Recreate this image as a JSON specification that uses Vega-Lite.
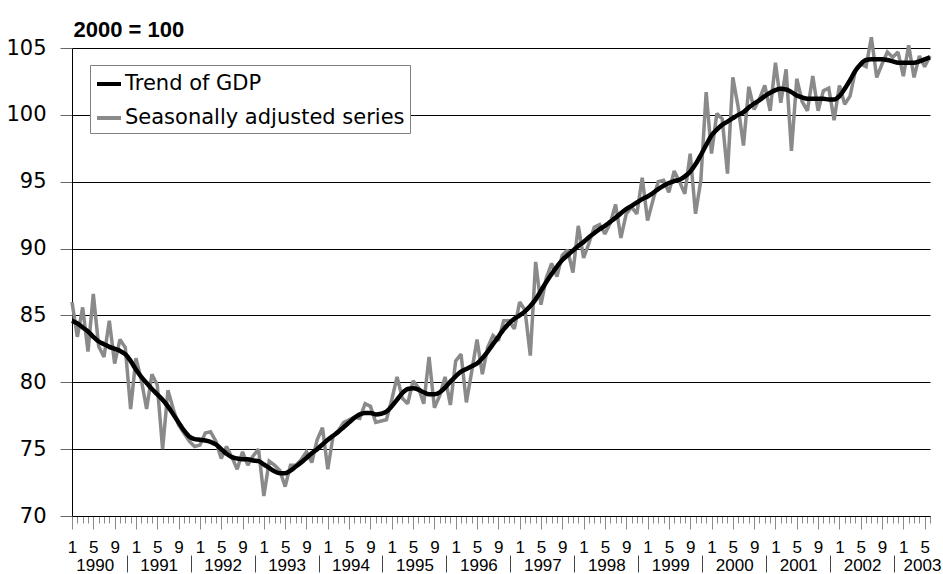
{
  "$schema": "https://vega.github.io/schema/vega-lite/v6.json",
  "width": 858,
  "height": 468,
  "autosize": {"type": "none"},
  "padding": {"left": 72, "top": 48, "right": 13, "bottom": 58},
  "background": "white",
  "config": {
    "view": {"stroke": null},
    "font": "Liberation Sans",
    "legend": {
      "orient": "none",
      "legendX": 18,
      "legendY": 17,
      "fillColor": "white",
      "strokeColor": "#808080",
      "strokeWidth": 1,
      "padding": 5,
      "symbolType": "stroke",
      "symbolStrokeWidth": 4,
      "symbolSize": 576,
      "labelFont": "DejaVu Sans",
      "labelFontSize": 21,
      "labelColor": "black",
      "labelOffset": 2,
      "rowPadding": 10,
      "labelLimit": 400
    }
  },
  "data": {
    "values": [
      {"t":0,"sa":86.0,"trend":84.6},{"t":1,"sa":83.4,"trend":84.4},{"t":2,"sa":85.6,"trend":84.1},{"t":3,"sa":82.3,"trend":83.8},
      {"t":4,"sa":86.6,"trend":83.4},{"t":5,"sa":82.7,"trend":83.05},{"t":6,"sa":81.9,"trend":82.85},{"t":7,"sa":84.6,"trend":82.65},
      {"t":8,"sa":81.4,"trend":82.5},{"t":9,"sa":83.2,"trend":82.35},{"t":10,"sa":82.6,"trend":82.1},{"t":11,"sa":78.0,"trend":81.6},
      {"t":12,"sa":81.8,"trend":80.95},{"t":13,"sa":80.2,"trend":80.4},{"t":14,"sa":78.0,"trend":79.95},{"t":15,"sa":80.6,"trend":79.5},
      {"t":16,"sa":79.8,"trend":79.1},{"t":17,"sa":75.0,"trend":78.7},{"t":18,"sa":79.4,"trend":78.2},{"t":19,"sa":78.0,"trend":77.6},
      {"t":20,"sa":76.8,"trend":77.0},{"t":21,"sa":76.2,"trend":76.4},{"t":22,"sa":75.6,"trend":75.95},{"t":23,"sa":75.2,"trend":75.75},
      {"t":24,"sa":75.3,"trend":75.7},{"t":25,"sa":76.2,"trend":75.65},{"t":26,"sa":76.3,"trend":75.55},{"t":27,"sa":75.6,"trend":75.35},
      {"t":28,"sa":74.3,"trend":75.0},{"t":29,"sa":75.2,"trend":74.65},{"t":30,"sa":74.4,"trend":74.4},{"t":31,"sa":73.5,"trend":74.3},
      {"t":32,"sa":74.8,"trend":74.25},{"t":33,"sa":73.8,"trend":74.25},{"t":34,"sa":74.5,"trend":74.15},{"t":35,"sa":75.0,"trend":74.1},
      {"t":36,"sa":71.5,"trend":73.85},{"t":37,"sa":74.1,"trend":73.6},{"t":38,"sa":73.8,"trend":73.35},{"t":39,"sa":73.4,"trend":73.2},
      {"t":40,"sa":72.2,"trend":73.2},{"t":41,"sa":73.8,"trend":73.4},{"t":42,"sa":73.8,"trend":73.7},{"t":43,"sa":74.2,"trend":74.0},
      {"t":44,"sa":74.8,"trend":74.35},{"t":45,"sa":74.0,"trend":74.7},{"t":46,"sa":75.7,"trend":75.0},{"t":47,"sa":76.6,"trend":75.35},
      {"t":48,"sa":73.5,"trend":75.7},{"t":49,"sa":76.0,"trend":76.0},{"t":50,"sa":76.4,"trend":76.3},{"t":51,"sa":77.0,"trend":76.65},
      {"t":52,"sa":77.2,"trend":77.0},{"t":53,"sa":77.4,"trend":77.35},{"t":54,"sa":77.3,"trend":77.6},{"t":55,"sa":78.4,"trend":77.7},
      {"t":56,"sa":78.2,"trend":77.7},{"t":57,"sa":77.0,"trend":77.6},{"t":58,"sa":77.1,"trend":77.65},{"t":59,"sa":77.2,"trend":77.8},
      {"t":60,"sa":78.7,"trend":78.2},{"t":61,"sa":80.4,"trend":78.7},{"t":62,"sa":78.8,"trend":79.2},{"t":63,"sa":78.4,"trend":79.5},
      {"t":64,"sa":80.1,"trend":79.55},{"t":65,"sa":79.6,"trend":79.45},{"t":66,"sa":78.4,"trend":79.25},{"t":67,"sa":81.9,"trend":79.1},
      {"t":68,"sa":78.1,"trend":79.1},{"t":69,"sa":79.0,"trend":79.25},{"t":70,"sa":80.4,"trend":79.6},{"t":71,"sa":78.3,"trend":80.05},
      {"t":72,"sa":81.6,"trend":80.45},{"t":73,"sa":82.1,"trend":80.8},{"t":74,"sa":78.5,"trend":81.0},{"t":75,"sa":80.8,"trend":81.2},
      {"t":76,"sa":83.2,"trend":81.4},{"t":77,"sa":80.6,"trend":81.8},{"t":78,"sa":82.6,"trend":82.3},{"t":79,"sa":83.5,"trend":82.85},
      {"t":80,"sa":83.1,"trend":83.4},{"t":81,"sa":84.6,"trend":83.95},{"t":82,"sa":84.6,"trend":84.4},{"t":83,"sa":84.0,"trend":84.75},
      {"t":84,"sa":86.0,"trend":85.0},{"t":85,"sa":85.4,"trend":85.3},{"t":86,"sa":82.0,"trend":85.7},{"t":87,"sa":89.0,"trend":86.2},
      {"t":88,"sa":85.8,"trend":86.85},{"t":89,"sa":87.8,"trend":87.5},{"t":90,"sa":88.9,"trend":88.1},{"t":91,"sa":87.9,"trend":88.65},
      {"t":92,"sa":89.5,"trend":89.15},{"t":93,"sa":89.9,"trend":89.5},{"t":94,"sa":88.2,"trend":89.85},{"t":95,"sa":91.7,"trend":90.2},
      {"t":96,"sa":89.3,"trend":90.5},{"t":97,"sa":90.4,"trend":90.85},{"t":98,"sa":91.6,"trend":91.15},{"t":99,"sa":91.8,"trend":91.45},
      {"t":100,"sa":91.1,"trend":91.7},{"t":101,"sa":91.9,"trend":92.0},{"t":102,"sa":93.3,"trend":92.3},{"t":103,"sa":90.8,"trend":92.65},
      {"t":104,"sa":92.6,"trend":92.95},{"t":105,"sa":93.1,"trend":93.2},{"t":106,"sa":92.6,"trend":93.45},{"t":107,"sa":95.3,"trend":93.7},
      {"t":108,"sa":92.1,"trend":93.9},{"t":109,"sa":93.6,"trend":94.15},{"t":110,"sa":95.0,"trend":94.45},{"t":111,"sa":95.1,"trend":94.7},
      {"t":112,"sa":94.2,"trend":94.9},{"t":113,"sa":95.8,"trend":95.05},{"t":114,"sa":95.0,"trend":95.15},{"t":115,"sa":94.1,"trend":95.4},
      {"t":116,"sa":97.1,"trend":95.75},{"t":117,"sa":92.6,"trend":96.3},{"t":118,"sa":95.1,"trend":97.0},{"t":119,"sa":101.7,"trend":97.75},
      {"t":120,"sa":97.1,"trend":98.45},{"t":121,"sa":100.1,"trend":98.9},{"t":122,"sa":99.7,"trend":99.25},{"t":123,"sa":95.6,"trend":99.5},
      {"t":124,"sa":102.8,"trend":99.75},{"t":125,"sa":100.6,"trend":100.0},{"t":126,"sa":97.7,"trend":100.2},{"t":127,"sa":102.1,"trend":100.55},
      {"t":128,"sa":100.4,"trend":100.85},{"t":129,"sa":101.2,"trend":101.1},{"t":130,"sa":102.2,"trend":101.4},{"t":131,"sa":100.3,"trend":101.65},
      {"t":132,"sa":103.9,"trend":101.85},{"t":133,"sa":100.9,"trend":101.95},{"t":134,"sa":103.4,"trend":101.9},{"t":135,"sa":97.3,"trend":101.7},
      {"t":136,"sa":102.7,"trend":101.45},{"t":137,"sa":101.0,"trend":101.3},{"t":138,"sa":100.3,"trend":101.2},{"t":139,"sa":102.9,"trend":101.2},
      {"t":140,"sa":100.3,"trend":101.2},{"t":141,"sa":101.8,"trend":101.2},{"t":142,"sa":102.0,"trend":101.15},{"t":143,"sa":99.6,"trend":101.15},
      {"t":144,"sa":102.2,"trend":101.4},{"t":145,"sa":100.8,"trend":101.95},{"t":146,"sa":101.4,"trend":102.6},{"t":147,"sa":103.3,"trend":103.3},
      {"t":148,"sa":103.8,"trend":103.8},{"t":149,"sa":103.6,"trend":104.1},{"t":150,"sa":105.8,"trend":104.15},{"t":151,"sa":102.8,"trend":104.15},
      {"t":152,"sa":103.8,"trend":104.15},{"t":153,"sa":104.7,"trend":104.1},{"t":154,"sa":104.3,"trend":104.0},{"t":155,"sa":104.7,"trend":103.9},
      {"t":156,"sa":102.9,"trend":103.9},{"t":157,"sa":105.2,"trend":103.9},{"t":158,"sa":102.8,"trend":103.9},{"t":159,"sa":104.4,"trend":104.0},
      {"t":160,"sa":103.6,"trend":104.15},{"t":161,"sa":104.4,"trend":104.3}
    ]
  },
  "resolve": {"axis": {"x": "independent", "y": "independent"}},
  "layer": [
    {
      "mark": {"type": "line", "strokeWidth": 3.5, "strokeJoin": "miter", "strokeMiterLimit": 2},
      "encoding": {
        "x": {
          "field": "t", "type": "quantitative",
          "scale": {"domain": [0, 161], "nice": false, "zero": false},
          "axis": {
            "orient": "bottom",
            "title": null,
            "grid": false,
            "values": [0,1,2,3,4,5,6,7,8,9,10,11,12,13,14,15,16,17,18,19,20,21,22,23,24,25,26,27,28,29,30,31,32,33,34,35,36,37,38,39,40,41,42,43,44,45,46,47,48,49,50,51,52,53,54,55,56,57,58,59,60,61,62,63,64,65,66,67,68,69,70,71,72,73,74,75,76,77,78,79,80,81,82,83,84,85,86,87,88,89,90,91,92,93,94,95,96,97,98,99,100,101,102,103,104,105,106,107,108,109,110,111,112,113,114,115,116,117,118,119,120,121,122,123,124,125,126,127,128,129,130,131,132,133,134,135,136,137,138,139,140,141,142,143,144,145,146,147,148,149,150,151,152,153,154,155,156,157,158,159,160,161],
            "domain": true, "domainColor": "black", "domainWidth": 1,
            "ticks": true, "tickColor": "#8a8a8a", "tickWidth": 1,
            "tickSize": {"condition": {"test": "datum.value % 4 === 0", "value": 13}, "value": 7},
            "labelExpr": "datum.value % 4 === 0 ? '' + (datum.value % 12 + 1) : ''",
            "labelFont": "Liberation Sans", "labelFontSize": 17, "labelColor": "black",
            "labelPadding": 10, "labelFlush": false, "labelOverlap": false, "labelBound": false, "labelAngle": 0
          }
        },
        "y": {
          "field": "sa", "type": "quantitative",
          "scale": {"domain": [70, 105], "nice": false, "zero": false},
          "axis": {
            "orient": "left",
            "values": [70, 75, 80, 85, 90, 95, 100, 105],
            "grid": true, "gridColor": "black", "gridWidth": 1,
            "domain": true, "domainColor": "black", "domainWidth": 1,
            "ticks": true, "tickSize": 12, "tickColor": "#666",
            "labelFont": "DejaVu Sans", "labelFontSize": 21, "labelColor": "black", "labelPadding": 14,
            "labelFlush": false,
            "title": "2000 = 100", "titleAngle": 0, "titleAlign": "left", "titleBaseline": "alphabetic",
            "titleX": 1, "titleY": -12, "titleFont": "Liberation Sans", "titleFontSize": 22, "titleFontWeight": "bold", "titleColor": "black"
          }
        },
        "color": {
          "datum": "Seasonally adjusted series", "type": "nominal",
          "scale": {"domain": ["Trend of GDP", "Seasonally adjusted series"], "range": ["#000000", "#8a8a8a"]},
          "legend": {"title": null}
        }
      }
    },
    {
      "mark": {"type": "line", "strokeWidth": 4.5, "interpolate": "monotone"},
      "encoding": {
        "x": {
          "field": "t", "type": "quantitative",
          "axis": {
            "orient": "bottom",
            "title": null, "grid": false, "domain": false, "ticks": false,
            "values": [4.26, 16.26, 28.26, 40.26, 52.26, 64.26, 76.26, 88.26, 100.26, 112.26, 124.26, 136.26, 148.26, 159.5],
            "labelExpr": "'' + (1990 + floor(datum.value / 12))",
            "labelFont": "Liberation Sans", "labelFontSize": 17, "labelColor": "black",
            "labelPadding": 41.5, "labelFlush": false, "labelOverlap": false, "labelBound": false, "labelAngle": 0
          }
        },
        "y": {"field": "trend", "type": "quantitative", "axis": null},
        "color": {
          "datum": "Trend of GDP", "type": "nominal",
          "scale": {"domain": ["Trend of GDP", "Seasonally adjusted series"], "range": ["#000000", "#8a8a8a"]},
          "legend": {"title": null}
        }
      }
    },
    {
      "mark": {"type": "point", "opacity": 0},
      "encoding": {
        "x": {
          "field": "t", "type": "quantitative",
          "axis": {
            "orient": "bottom",
            "title": null, "grid": false, "domain": false, "labels": false,
            "values": [10.26, 22.26, 34.26, 46.26, 58.26, 70.26, 82.26, 94.26, 106.26, 118.26, 130.26, 142.26, 154.26],
            "ticks": true, "tickSize": 17, "tickColor": "#444", "tickWidth": 1,
            "offset": 39
          }
        },
        "y": {"field": "trend", "type": "quantitative", "axis": null}
      }
    }
  ]
}
